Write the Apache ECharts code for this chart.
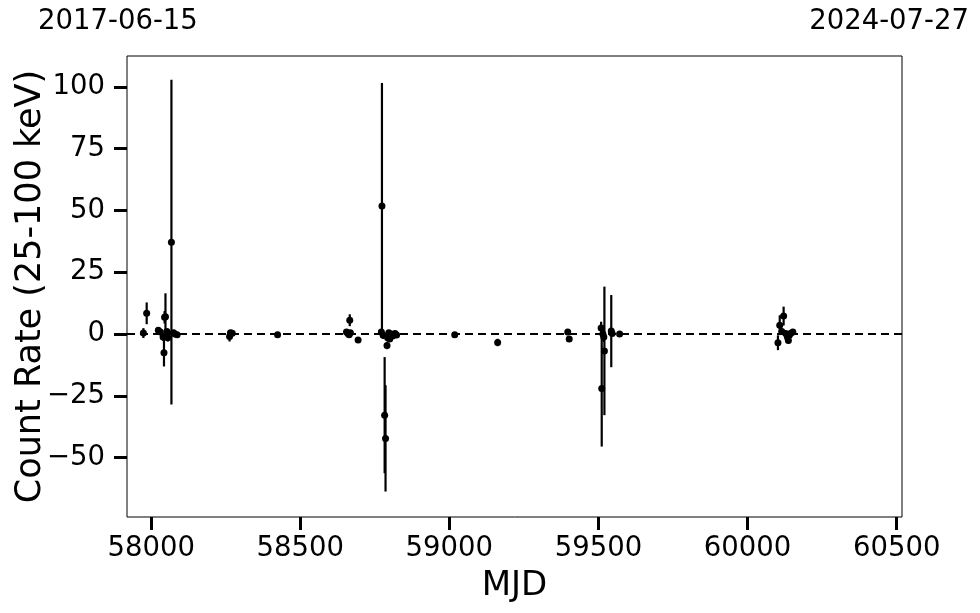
<!DOCTYPE html>
<html>
<head>
<meta charset="utf-8">
<script src="https://cdn.jsdelivr.net/npm/echarts@6/dist/echarts.min.js"></script>
<style>html,body{margin:0;padding:0;background:#fff}#c{width:980px;height:613px}</style>
</head>
<body>
<div id="c"></div>
<script>
// MJD of each observation
const mjd = [
  57974, 57985, 58024, 58031, 58040, 58043, 58045, 58048, 58050, 58053, 58056, 58068, 58075, 58080, 58087,
  58263, 58266, 58272, 58424,
  58655, 58660, 58664, 58666, 58668, 58694,
  58772, 58774, 58778, 58783, 58786, 58791, 58793, 58797, 58800, 58805, 58810, 58818, 58823,
  59018, 59162, 59397, 59402,
  59509, 59511, 59515, 59518, 59520, 59543, 59546, 59571,
  60102, 60108, 60115, 60121, 60128, 60134, 60137, 60140, 60145, 60152
];
// Count rate (25-100 keV)
const rate = [
  0.4, 8.4, 1.6, 0.8, -1.2, -7.6, 6.8, 7.0, -0.5, 1.0, -1.5, 37.2, 0.5, 0.0, -0.3,
  -1.0, 0.5, 0.3, -0.3,
  0.8, 0.2, -0.3, 5.6, 0.5, -2.4,
  0.8, 51.8, -0.5, -32.8, -42.2, -4.6, -1.5, 0.5, -2.0, 0.0, -0.8, 0.2, -0.4,
  -0.3, -3.4, 0.8, -2.0,
  2.5, -22.0, 0.0, -1.2, -6.8, 1.2, 0.2, 0.0,
  -3.5, 3.6, 1.0, 7.3, 0.2, -1.3, -2.6, -0.5, 0.3, 0.8
];
// 1-sigma errors
const err = [
  2.0, 4.4, 1.0, 1.0, 1.5, 5.5, 2.5, 9.5, 2.0, 1.0, 1.5, 65.7, 0.8, 1.0, 0.8,
  2.0, 1.0, 0.8, 0.5,
  1.0, 1.0, 0.8, 2.4, 1.0, 1.0,
  1.0, 49.8, 1.5, 23.5, 21.5, 1.5, 1.0, 1.0, 1.2, 1.0, 1.0, 0.8, 0.8,
  0.6, 1.5, 1.0, 1.0,
  2.5, 23.5, 1.5, 2.0, 26.0, 14.6, 1.0, 0.6,
  3.0, 4.0, 1.0, 3.8, 1.0, 1.0, 1.2, 1.0, 0.8, 1.0
];
const xTicks = [58000, 58500, 59000, 59500, 60000, 60500];
const yTicks = [-50, -25, 0, 25, 50, 75, 100];
const xRange = [57919, 60518];
const yRange = [-74, 112.5];
const dateLabels = ['2017-06-15', '2024-07-27'];

const pts = mjd.map((m, i) => [m, rate[i], err[i]]);
const FONT = 'DejaVu Sans';

const chart = echarts.init(document.getElementById('c'));
chart.setOption({
  animation: false,
  backgroundColor: '#fff',
  textStyle: { fontFamily: FONT },
  grid: { left: 127, right: 78, top: 56, bottom: 96, show: true, borderColor: '#000', borderWidth: 1,
          backgroundColor: 'transparent', containLabel: false, outerBoundsMode: 'none' },
  xAxis: {
    type: 'value', min: xRange[0], max: xRange[1],
    name: 'MJD', nameLocation: 'middle', nameGap: 52, nameMoveOverlap: false,
    nameTextStyle: { fontSize: 34, color: '#000', fontFamily: FONT },
    axisLine: { show: false, onZero: false },
    splitLine: { show: false },
    axisTick: { show: true, inside: false, length: 13, lineStyle: { color: '#000', width: 3 }, customValues: xTicks },
    axisLabel: { fontSize: 27.5, color: '#000', margin: 18, fontFamily: FONT, customValues: xTicks, formatter: v => String(v) }
  },
  yAxis: {
    type: 'value', min: yRange[0], max: yRange[1],
    name: 'Count Rate (25-100 keV)', nameLocation: 'middle', nameGap: 79, nameRotate: 90, nameMoveOverlap: false,
    nameTextStyle: { fontSize: 35, color: '#000', fontFamily: FONT },
    axisLine: { show: false, onZero: false },
    splitLine: { show: false },
    axisTick: { show: true, inside: false, length: 13, lineStyle: { color: '#000', width: 3 }, customValues: yTicks },
    axisLabel: { fontSize: 27.5, color: '#000', margin: 22, fontFamily: FONT, customValues: yTicks,
      formatter: v => (v < 0 ? '\u2212' + Math.abs(v) : String(v)) }
  },
  graphic: [
    { type: 'text', left: 38, top: 8, style: { text: dateLabels[0], font: '27.5px "DejaVu Sans"', fill: '#000' } },
    { type: 'text', right: 11, top: 8, style: { text: dateLabels[1], font: '27.5px "DejaVu Sans"', fill: '#000' } }
  ],
  series: [
    {
      type: 'custom',
      data: pts,
      clip: true,
      z: 2,
      renderItem: (params, api) => {
        const x = api.value(0), y = api.value(1), e = api.value(2);
        const p1 = api.coord([x, y - e]);
        const p2 = api.coord([x, y + e]);
        return { type: 'line', shape: { x1: p1[0], y1: p1[1], x2: p2[0], y2: p2[1] }, style: { stroke: '#000', lineWidth: 2.2 } };
      }
    },
    {
      type: 'scatter',
      data: pts,
      symbol: 'circle',
      symbolSize: 7,
      itemStyle: { color: '#000', opacity: 1 },
      z: 3,
      markLine: {
        silent: true, symbol: 'none', label: { show: false },
        lineStyle: { color: '#000', width: 2, type: [8, 5], opacity: 1 },
        data: [{ yAxis: 0 }]
      }
    }
  ]
});
</script>
</body>
</html>
